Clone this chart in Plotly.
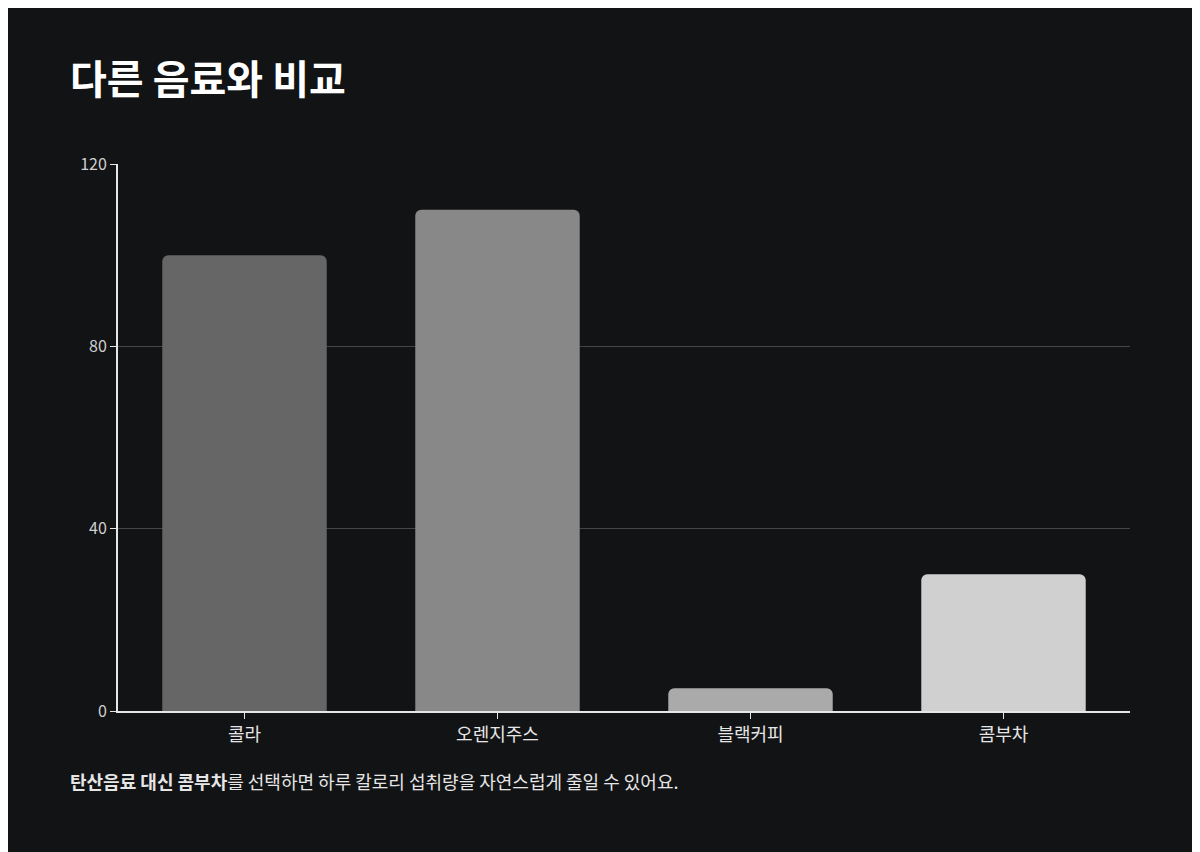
import plotly.graph_objects as go

categories = ["콜라", "오렌지주스", "블랙커피", "콤부차"]
values = [100, 110, 5, 30]
colors = ["#666666", "#888888", "#aaaaaa", "#d0d0d0"]
tick_vals = [0, 40, 80, 120]

BG = "#121315"
FONT = "Noto Sans CJK KR"

fig = go.Figure(go.Bar(x=categories, y=values, marker=dict(color=colors, line=dict(width=0)),
                       width=0.65, hoverinfo="skip"))
fig.update_layout(
    width=1200, height=852, paper_bgcolor=BG, plot_bgcolor=BG,
    font=dict(family=FONT, color="#e6e6e6", size=15),
    margin=dict(l=110, r=78, t=156, b=149),
    barcornerradius=6, showlegend=False,
    title=dict(text="<b>다른 음료와 비교</b>", x=62/1200, xanchor="left", xref="container",
               y=1-72/852, yref="container", yanchor="middle",
               font=dict(size=40, color="white", family=FONT)),
    xaxis=dict(showline=True, linecolor="#e6e6e6", linewidth=2, ticks="outside", tickcolor="#e6e6e6",
               ticklen=6, tickfont=dict(size=18, color="#e6e6e6"), showgrid=False),
    yaxis=dict(range=[0, 120.05], tickvals=tick_vals, showline=True, linecolor="#e6e6e6", linewidth=2,
               ticks="outside", tickcolor="#e6e6e6", ticklen=6, gridcolor="#444548", gridwidth=1,
               zeroline=False, tickfont=dict(size=16, color="#d0d0d0")),
)
fig.add_annotation(text="<b>탄산음료 대신 콤부차</b>를 선택하면 하루 칼로리 섭취량을 자연스럽게 줄일 수 있어요.",
                   xref="paper", yref="paper", x=-50/1012, y=-70/547,
                   xanchor="left", yanchor="middle", showarrow=False,
                   font=dict(size=18, color="#e6e6e6", family=FONT))
fig.write_html("out.html")
